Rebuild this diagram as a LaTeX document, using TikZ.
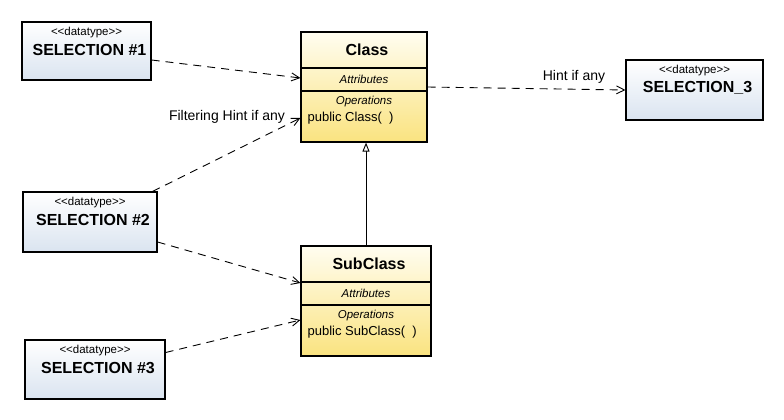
\documentclass[tikz,border=0pt]{standalone}
\usepackage{fontspec}
\setmainfont{Liberation Sans}
\usetikzlibrary{arrows.meta}
\definecolor{dtlow}{RGB}{218,228,240}
\definecolor{clstop}{RGB}{255,253,240}
\definecolor{clslow}{RGB}{250,227,128}
\begin{document}
\begin{tikzpicture}[x=1pt,y=-1pt,line width=1.2pt,
  dtbox/.style={draw,top color=white,bottom color=dtlow,inner sep=0pt},
  clsbox/.style={draw,top color=clstop,bottom color=clslow,inner sep=0pt},
  stereo/.style={inner sep=0pt,font=\fontsize{11.5}{13}\selectfont},
  dtname/.style={inner sep=0pt,font=\fontsize{16}{18}\selectfont\bfseries},
  compart/.style={inner sep=0pt,font=\fontsize{11.5}{13}\selectfont\itshape},
  oper/.style={inner sep=0pt,anchor=west,font=\fontsize{13}{15}\selectfont},
  hint/.style={inner sep=0pt,font=\fontsize{14}{16}\selectfont},
  dep/.style={line width=0.9pt,dash pattern=on 8pt off 6pt,-{Straight Barb[length=8pt,width=8pt]}},
  gen/.style={line width=0.9pt,-{Triangle[open,length=9pt,width=7pt,fill=white]}}]
\useasboundingbox (0,0) rectangle (784,420);
% datatype boxes: left/top/right/bottom in pixels
\foreach \nm/\l/\t/\r/\b/\txt in {sela/22/22/151/80/{SELECTION \#1},selb/23/192/157/252/{SELECTION \#2},
  seld/25/340/165/399/{SELECTION \#3},selc/626/60/763/120/{SELECTION\_3}}{
  \node[dtbox,minimum width={\r-\l},minimum height={\b-\t}] (\nm) at ({(\l+\r)/2},{(\t+\b)/2}) {};
  % 11 = stereotype, 28 = name, below the top edge
  \node[stereo] (\nm-st) at ({(\l+\r)/2},\t+11) {<\kern0pt<datatype>\kern0pt>};
  \node[dtname] (\nm-name) at ({(\l+\r)/2+3},\t+28) {\txt};
}
% classes: header 36, attributes 23, the rest operations
\foreach \nm/\l/\t/\r/\b/\txt in {cls/301/32/427/142/Class,subcls/301/246/431/356/SubClass}{
  \node[clsbox,minimum width={\r-\l},minimum height={\b-\t}] (\nm) at ({(\l+\r)/2},{(\t+\b)/2}) {};
  \draw (\l,\t+36) -- (\r,\t+36) (\l,\t+59) -- (\r,\t+59);
  \node[dtname] (\nm-name) at ({(\l+\r)/2+3},\t+18) {\txt};
  \node[compart] (\nm-attr) at ({(\l+\r)/2},\t+47) {Attributes};
  \node[compart] (\nm-ops) at ({(\l+\r)/2},\t+70) {Operations};
  \node[oper] (\nm-op) at (\l+6,\t+86) {public \txt(\ \ )};
}
% dependencies
\draw[dep] ([yshift=-9pt]sela.east) -- ([yshift=9pt]cls.west);
\draw[dep] (cls.east) -- node[hint,pos=0.74,above=5pt] (hintc) {Hint if any} (selc.west);
\draw[dep] ([xshift=-5pt]selb.north east) -- ([yshift=-31pt]cls.west)
  node[hint,anchor=east,xshift=-15pt,yshift=1pt] (hintb) {Filtering Hint if any};
\draw[dep] ([yshift=-20pt]selb.east) -- ([yshift=18pt]subcls.west);
\draw[dep] ([yshift=17pt]seld.east) -- ([yshift=-19pt]subcls.west);
% generalization
\draw[gen] (subcls.north) -- (subcls.north |- cls.south);
\end{tikzpicture}
\end{document}
